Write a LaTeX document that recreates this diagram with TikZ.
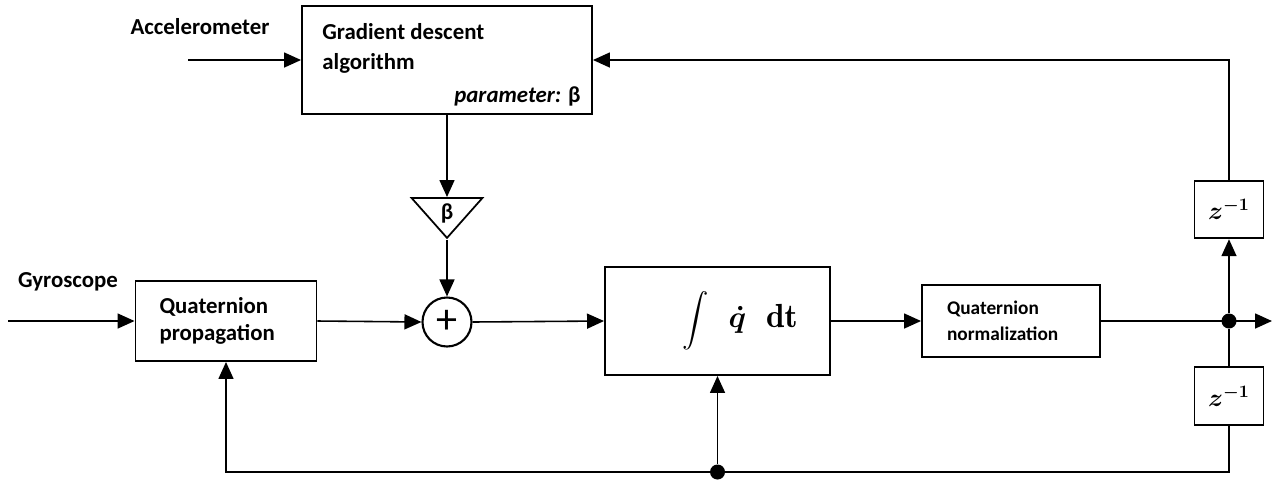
\documentclass[tikz,border=0pt]{standalone}
\usepackage{amsmath,amssymb}
\usepackage[no-math]{fontspec}
\setmainfont{Carlito}
\usetikzlibrary{arrows.meta, shapes, positioning}

\newcommand{\serifbf}{\fontfamily{lmr}\bfseries\selectfont}

\begin{document}
\begin{tikzpicture}[
  block/.style={rectangle, draw, line width=1.1pt, font=\bfseries\fontsize{13}{15.5}\selectfont},
  delay/.style={rectangle, draw, line width=1.1pt, minimum width=1.38cm,
                minimum height=1.15cm, font=\fontsize{14}{16}\selectfont\boldmath},
  sumnode/.style={circle, draw, line width=1.2pt, minimum size=0.98cm, inner sep=0pt,
                  font=\fontsize{24}{24}\selectfont},
  gainnode/.style={isosceles triangle, draw, line width=1pt, shape border rotate=270,
                   isosceles triangle stretches, minimum width=1.42cm, minimum height=0.8cm,
                   inner sep=0pt, font=\bfseries\fontsize{13}{15}\selectfont},
  junction/.style={circle, fill, minimum size=0.3cm, inner sep=0pt},
  sig/.style={line width=0.9pt, -{Triangle[length=0.34cm, width=0.3cm]}},
  wire/.style={line width=0.9pt},
  lbl/.style={font=\bfseries\fontsize{13}{17}\selectfont}
]
\useasboundingbox (0,0) rectangle (25.54,-9.6);

\node[block, minimum width=5.8cm, minimum height=2.16cm] (grad) at (8.94,-1.2) {};
\node[lbl, anchor=north west, align=left, inner sep=0pt] (gradtxt)
  at ([shift={(0.42,-0.36)}]grad.north west) {Gradient descent\\algorithm};
\node[lbl, anchor=base east, inner sep=0pt] (param)
  at ([shift={(-0.24,0.24)}]grad.south east) {\textit{parameter:} β};
\node[lbl] (acc) at (4.0,-0.54) {Accelerometer};
\node[lbl] (gyro) at (1.36,-5.64) {Gyroscope};

\node[gainnode] (gain) at (8.94,-4.26) {β};
\node[sumnode] (sum) at (8.94,-6.44) {+};
\node[block, minimum width=3.62cm, minimum height=1.6cm, text width=2.66cm, align=left]
  (prop) at (4.52,-6.42) {Quaternion\\propagation};
\node[block, minimum width=4.5cm, minimum height=2.16cm, font=\fontsize{15}{17}\selectfont\boldmath]
  (integ) at (14.35,-6.42)
  {\hspace{0.9cm}$\displaystyle\int$\hspace{0.4cm}{\fontsize{19}{19}\selectfont$\dot{q}$\hspace{0.4cm}\serifbf dt}};
\node[block, minimum width=3.56cm, minimum height=1.44cm, text width=2.56cm, align=left,
      font=\bfseries\fontsize{11}{14.5}\selectfont] (norm) at (20.22,-6.42) {Quaternion\\normalization};
\node[delay] (ztop) at (24.58,-4.19) {$z^{-1}$};
\node[delay] (zbot) at (24.58,-7.92) {$z^{-1}$};
\node[junction] (split) at (24.58,-6.42) {};
\node[junction] (tap) at (14.35,-9.44) {};

\coordinate (accin) at (3.76,-1.2);
\coordinate (gyroin) at (0.16,-6.42);
\coordinate (out) at (25.44,-6.42);

\draw[sig] (accin) -- (grad.west);
\draw[sig] (gyroin) -- (prop.west);
\draw[sig] (grad.south) -- (gain.north);
\draw[sig] (gain.apex) -- (sum.north);
\draw[sig] (prop.east) -- (sum.west);
\draw[sig] (sum.east) -- (integ.west);
\draw[sig] (integ.east) -- (norm.west);
\draw[sig] (norm.east) -- (out);
\draw[sig] (split) -- (ztop.south);
\draw[wire] (split) -- (zbot.north);
\draw[sig] (ztop.north) |- (grad.east);
\draw[sig] (zbot.south) |- (tap) -| (prop.south);
\draw[sig] (tap) -- (integ.south);
\end{tikzpicture}
\end{document}
